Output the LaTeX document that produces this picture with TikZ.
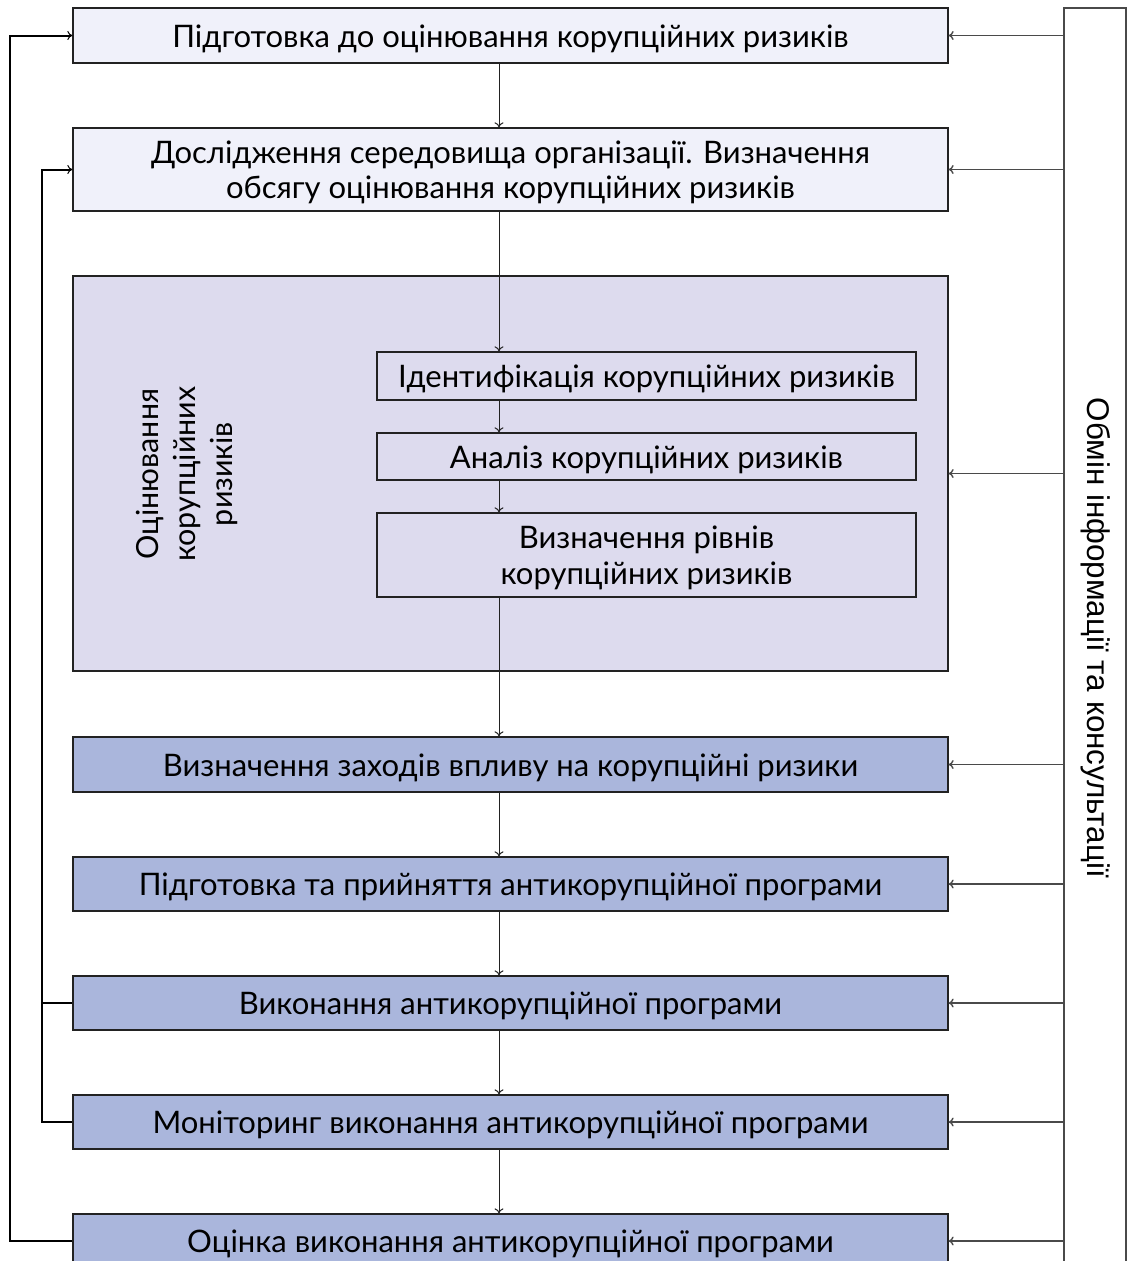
\documentclass[tikz,border=0pt]{standalone}
\usepackage{fontspec}
\setmainfont{Lato}
\newfontfamily\infofont{Liberation Sans}
\usetikzlibrary{arrows.meta}
\definecolor{lightbox}{HTML}{F0F1FA}
\definecolor{groupbox}{HTML}{DDDBEE}
\definecolor{darkbox}{HTML}{AAB6DC}
\definecolor{edgecol}{HTML}{222222}
\definecolor{rline}{HTML}{4A4A4A}
\tikzset{
  box/.style={draw=edgecol, line width=1.3pt, align=center, inner sep=0pt,
    font=\fontsize{31}{35.5}\selectfont, text height=23pt, text depth=0pt},
  twolines/.style={text height=58.5pt, text depth=0pt},
  widebox/.style={box, minimum width=875pt},
  smallbox/.style={box, minimum width=539pt, fill=groupbox},
  varr/.style={draw=edgecol, line width=1pt, -{To[length=5pt,width=9pt]}},
  rarr/.style={draw=rline, line width=1.4pt, -{To[length=5pt,width=9pt]}},
  larr/.style={draw=black, line width=2pt, -{To[length=5pt,width=9pt,line width=1pt]}},
  lline/.style={draw=black, line width=2pt},
}
\begin{document}
\begin{tikzpicture}[x=1pt,y=-1pt]
\useasboundingbox (0,0) rectangle (1127,1261);
% right info box
\draw[draw=rline, line width=1.4pt] (1064,1275) -- (1064,8) -- (1126,8) -- (1126,1275);
\coordinate (info) at (1064,8);
\node[rotate=-90, font=\infofont\fontsize{31.4}{36}\selectfont] (infotext) at (1096,638) {Обмін інформації та консультації};

% main boxes
\node[widebox, fill=lightbox, minimum height=55pt] (b1) at (510.5,35.5) {Підготовка до оцінювання корупційних ризиків};
\node[widebox, twolines, fill=lightbox, minimum height=83pt] (b2) at (510.5,169.5) {Дослідження середовища організації. Визначення\\обсягу оцінювання корупційних ризиків};
\node[widebox, fill=groupbox, minimum height=395pt] (g) at (510.5,473.5) {};
\node[rotate=90, align=center, font=\fontsize{30.5}{37}\selectfont] (gtext) at (187,474) {Оцінювання\\корупційних\\ризиків};
\node[smallbox, minimum height=48pt] (b4) at (646.5,376) {Ідентифікація корупційних ризиків};
\node[smallbox, minimum height=47pt] (b5) at (646.5,456.5) {Аналіз корупційних ризиків};
\node[smallbox, twolines, minimum height=84pt] (b6) at (646.5,555) {Визначення рівнів\\корупційних ризиків};
\node[widebox, fill=darkbox, minimum height=55pt] (b7) at (510.5,764.5) {Визначення заходів впливу на корупційні ризики};
\node[widebox, fill=darkbox, minimum height=54pt] (b8) at (510.5,884) {Підготовка та прийняття антикорупційної програми};
\node[widebox, fill=darkbox, minimum height=54pt] (b9) at (510.5,1003) {Виконання антикорупційної програми};
\node[widebox, fill=darkbox, minimum height=54pt] (b10) at (510.5,1122) {Моніторинг виконання антикорупційної програми};
\node[widebox, fill=darkbox, minimum height=54pt] (b11) at (510.5,1241) {Оцінка виконання антикорупційної програми};

% vertical arrows
\coordinate (vx) at (499,0);
\draw[varr] (b1.south -| vx) -- (b2.north -| vx);
\draw[varr] (b2.south -| vx) -- (b4.north -| vx);
\draw[varr] (b4.south -| vx) -- (b5.north -| vx);
\draw[varr] (b5.south -| vx) -- (b6.north -| vx);
\draw[varr] (b6.south -| vx) -- (b7.north -| vx);
\draw[varr] (b7.south -| vx) -- (b8.north -| vx);
\draw[varr] (b8.south -| vx) -- (b9.north -| vx);
\draw[varr] (b9.south -| vx) -- (b10.north -| vx);
\draw[varr] (b10.south -| vx) -- (b11.north -| vx);

% right arrows
\foreach \b in {b1,b2,g,b7,b8,b9,b10,b11}
  \draw[rarr] (\b.east -| info) -- (\b.east);

% left feedback lines
\coordinate (L1) at (10,0);
\coordinate (L2) at (42,0);
\draw[larr] (b11.west) -- (b11.west -| L1) |- (b1.west);
\draw[larr] (b9.west) -- (b9.west -| L2) |- (b2.west);
\draw[lline] (b10.west) -- (b10.west -| L2) -- (b9.west -| L2);
\end{tikzpicture}
\end{document}
